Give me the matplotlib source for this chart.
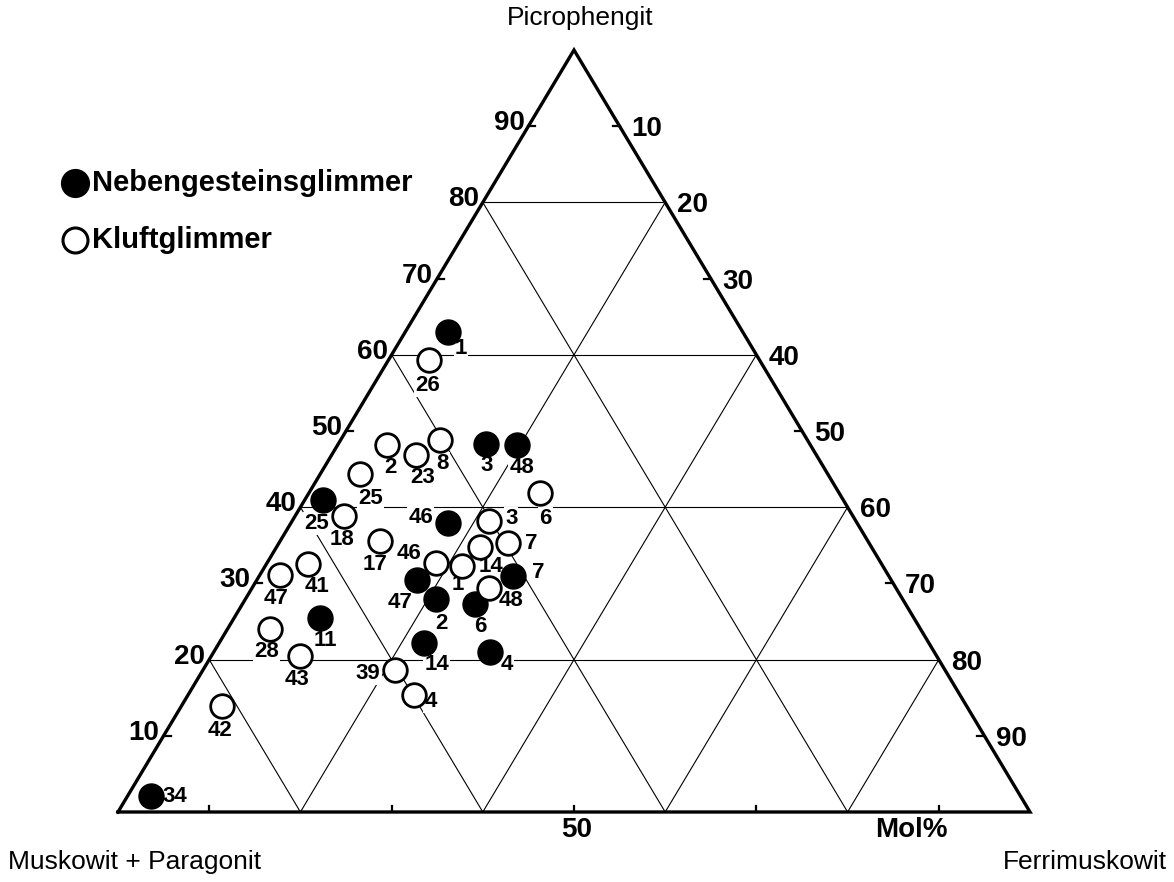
import matplotlib
matplotlib.use("Agg")
import matplotlib.pyplot as plt
from matplotlib import font_manager

# ternary values: P = Picrophengit, F = Ferrimuskowit (Mol%)
neben_labels = ["1", "3", "48", "25", "46", "7", "47", "2", "6", "11", "14", "4", "34"]
neben_P = [63.0, 48.3, 48.2, 40.9, 37.9, 31.0, 30.4, 28.0, 27.3, 25.4, 22.2, 21.0, 2.1]
neben_F = [4.7, 16.2, 19.6, 2.0, 17.2, 27.8, 17.6, 20.9, 25.5, 9.4, 22.4, 30.3, 2.6]

kluft_labels = ["26", "2", "23", "8", "25", "6", "18", "3", "7", "14", "17", "46",
                "1", "48", "41", "47", "28", "43", "39", "4", "42"]
kluft_P = [59.3, 48.2, 46.9, 48.8, 44.4, 41.8, 38.8, 38.2, 35.3, 34.8, 35.5, 32.7,
           32.3, 29.4, 32.6, 31.1, 24.0, 20.5, 18.6, 15.4, 13.9]
kluft_F = [4.4, 5.4, 9.2, 10.9, 4.3, 25.4, 5.4, 21.6, 25.1, 22.3, 11.0, 18.5,
           21.6, 26.0, 4.5, 2.2, 4.7, 9.7, 21.1, 24.8, 4.4]

grid_vals = [20, 40, 60, 80]
tick_vals = [10, 30, 50, 70, 90]
left_tick_labels = ["10", "20", "30", "40", "50", "60", "70", "80", "90"]
right_tick_labels = ["90", "80", "70", "60", "50", "40", "30", "20", "10"]

# label offsets (pixels, right/down) for the sample numbers
neben_off = [(13, 17), (1, 22), (5, 23), (-6, 23), (-27, -6), (25, -3), (-17, 22),
             (5, 25), (5, 23), (6, 22), (13, 22), (17, 13), (24, 1)]
kluft_off = [(-1, 25), (3, 23), (7, 23), (3, 23), (11, 25), (5, 25), (-2, 23),
             (22, -2), (23, 0), (11, 20), (-5, 23), (-27, -9), (-4, 19), (22, 13),
             (9, 23), (-4, 23), (-4, 22), (-3, 24), (-27, 3), (16, 7), (-2, 24)]

installed = {f.name for f in font_manager.fontManager.ttflist}
base = "Liberation Sans" if "Liberation Sans" in installed else "DejaVu Sans"
plt.rcParams["font.family"] = [base, "DejaVu Sans"]


def tern(P, F):
    return F + P / 2.0, P


W, H = 1174, 882
fig = plt.figure(figsize=(W / 100, H / 100), dpi=100)
ax = fig.add_axes([118 / W, 70 / H, 912 / W, 762 / H])
ax.set_xlim(0, 100)
ax.set_ylim(0, 100)
ax.axis("off")

# grid lines
for v in grid_vals:
    # constant P (horizontal)
    x0, y0 = tern(v, 0)
    x1, y1 = tern(v, 100 - v)
    ax.plot([x0, x1], [y0, y1], color="black", lw=0.8, zorder=1)
    # constant F
    x0, y0 = tern(0, v)
    x1, y1 = tern(100 - v, v)
    ax.plot([x0, x1], [y0, y1], color="black", lw=0.8, zorder=1)
    # constant M
    x0, y0 = tern(0, 100 - v)
    x1, y1 = tern(100 - v, 0)
    ax.plot([x0, x1], [y0, y1], color="black", lw=0.8, zorder=1)

# outer triangle
tri = [tern(0, 0), tern(0, 100), tern(100, 0), tern(0, 0)]
ax.plot([p[0] for p in tri], [p[1] for p in tri], color="black", lw=2.4,
        solid_joinstyle="miter", zorder=3, clip_on=False)

# small ticks (inward) at odd tens
px = 100 / 912.0
py = 100 / 762.0
for v in tick_vals:
    x, y = tern(v, 0)
    ax.plot([x, x + 7 * px], [y, y], color="black", lw=1.6, zorder=3)
    x, y = tern(v, 100 - v)
    ax.plot([x, x - 7 * px], [y, y], color="black", lw=1.6, zorder=3)
    x, y = tern(0, v)
    ax.plot([x, x], [y, y + 6 * py], color="black", lw=1.6, zorder=3)

# edge labels
for i, lab in enumerate(left_tick_labels):
    v = (i + 1) * 10
    x, y = tern(v, 0)
    ax.annotate(lab, (x, y), xytext=(-4, 3), textcoords="offset pixels",
                ha="right", va="center", fontsize=20, fontweight="bold",
                annotation_clip=False)
for i, lab in enumerate(right_tick_labels):
    v = (i + 1) * 10
    x, y = tern(v, 100 - v)
    ax.annotate(lab, (x, y), xytext=(12, -3), textcoords="offset pixels",
                ha="left", va="center", fontsize=20, fontweight="bold",
                annotation_clip=False)
ax.annotate("50", tern(0, 50), xytext=(3, -18), textcoords="offset pixels",
            ha="center", va="center", fontsize=20, fontweight="bold",
            annotation_clip=False)
ax.annotate("Mol%", tern(0, 87), xytext=(0, -18), textcoords="offset pixels",
            ha="center", va="center", fontsize=20, fontweight="bold",
            annotation_clip=False)

# data points
bbox = dict(boxstyle="square,pad=0.05", fc="white", ec="none")
for lab, P, F, off in zip(neben_labels, neben_P, neben_F, neben_off):
    x, y = tern(P, F)
    ax.plot(x, y, "o", ms=18, mfc="black", mec="black", zorder=5, clip_on=False)
    ax.annotate(lab, (x, y), xytext=(off[0], -off[1]), textcoords="offset pixels",
                ha="center", va="center", fontsize=16, fontweight="bold",
                bbox=bbox, zorder=4)
for lab, P, F, off in zip(kluft_labels, kluft_P, kluft_F, kluft_off):
    x, y = tern(P, F)
    ax.plot(x, y, "o", ms=17, mfc="white", mec="black", mew=2.0, zorder=5)
    ax.annotate(lab, (x, y), xytext=(off[0], -off[1]), textcoords="offset pixels",
                ha="center", va="center", fontsize=16, fontweight="bold",
                bbox=bbox, zorder=4)

# corner labels
fig.text(580 / W, 1 - 18 / H, "Picrophengit", ha="center", va="center", fontsize=19)
fig.text(8 / W, 1 - 862 / H, "Muskowit + Paragonit", ha="left", va="center", fontsize=19)
fig.text(1167 / W, 1 - 862 / H, "Ferrimuskowit", ha="right", va="center", fontsize=19)

# legend
fig.lines.append(plt.Line2D([75 / W], [1 - 183 / H], marker="o", ms=20, mfc="black",
                            mec="black", transform=fig.transFigure))
fig.lines.append(plt.Line2D([75 / W], [1 - 240 / H], marker="o", ms=18, mfc="white",
                            mec="black", mew=2.2, transform=fig.transFigure))
fig.text(92 / W, 1 - 183 / H, "Nebengesteinsglimmer", ha="left", va="center",
         fontsize=21, fontweight="bold")
fig.text(92 / W, 1 - 240 / H, "Kluftglimmer", ha="left", va="center",
         fontsize=21, fontweight="bold")

fig.savefig("out.png", dpi=100)
